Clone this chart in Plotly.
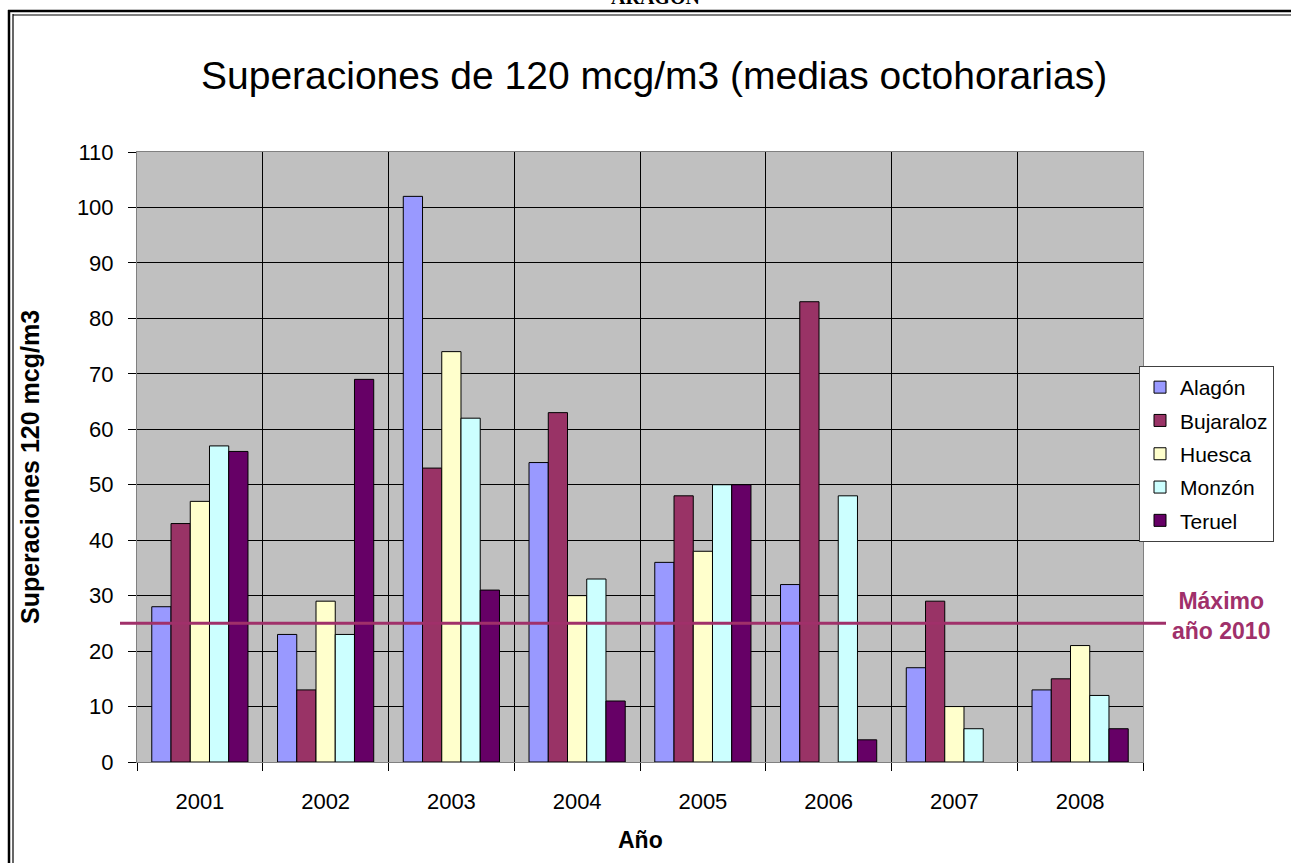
import plotly.graph_objects as go

years = [2001, 2002, 2003, 2004, 2005, 2006, 2007, 2008]
stations = ["Alagón", "Bujaraloz", "Huesca", "Monzón", "Teruel"]
alagon = [28, 23, 102, 54, 36, 32, 17, 13]
bujaraloz = [43, 13, 53, 63, 48, 83, 29, 15]
huesca = [47, 29, 74, 30, 38, None, 10, 21]
monzon = [57, 23, 62, 33, 50, 48, 6, 12]
teruel = [56, 69, 31, 11, 50, 4, None, 6]
series = [alagon, bujaraloz, huesca, monzon, teruel]
colors = ["#9999FF", "#993366", "#FFFFCC", "#CCFFFF", "#660066"]
max_2010 = 25
y_ticks = list(range(0, 111, 10))

W, H = 1291, 863
L, R, T, B = 137, 148, 152, 101
PW, PH = W - L - R, H - T - B

def px(x):
    return (x - L) / PW

def py(y):
    return (H - B - y) / PH

FONT = "Liberation Sans, Arial, sans-serif"
LINE_COL = "#A0306A"

fig = go.Figure()
for name, vals, col in zip(stations, series, colors):
    fig.add_trace(go.Bar(
        x=years, y=vals, name=name, legendgroup=name,
        marker=dict(color=col, line=dict(color="black", width=1)),
    ))

shapes = []
shapes.append(dict(type="line", xref="paper", yref="y", x0=px(120), x1=px(1166),
                   y0=max_2010, y1=max_2010, line=dict(color=LINE_COL, width=3), layer="above"))
frame = "black"
shapes += [
    dict(type="line", xref="paper", yref="paper", x0=px(9), x1=px(9), y0=py(10), y1=py(H + 5), line=dict(color=frame, width=2.5)),
    dict(type="line", xref="paper", yref="paper", x0=px(13), x1=px(13), y0=py(14), y1=py(H + 5), line=dict(color=frame, width=1.2)),
    dict(type="line", xref="paper", yref="paper", x0=px(8), x1=px(W + 5), y0=py(11), y1=py(11), line=dict(color=frame, width=2.5)),
    dict(type="line", xref="paper", yref="paper", x0=px(13), x1=px(W + 5), y0=py(15), y1=py(15), line=dict(color=frame, width=1.2)),
]

annotations = [
    dict(text="<b>ARAGÓN</b>", xref="paper", yref="paper", x=px(655), y=py(-4), showarrow=False,
         font=dict(family="Liberation Serif, Times New Roman, serif", size=20, color="black"),
         xanchor="center", yanchor="middle"),
    dict(text="Superaciones de 120 mcg/m3 (medias octohorarias)", xref="paper", yref="paper",
         x=px(654), y=py(75), showarrow=False, xanchor="center", yanchor="middle",
         font=dict(family=FONT, size=39, color="black")),
    dict(text="<b>Superaciones 120 mcg/m3</b>", xref="paper", yref="paper", x=px(30), y=py(467),
         textangle=-90, showarrow=False, xanchor="center", yanchor="middle",
         font=dict(family=FONT, size=25, color="black")),
    dict(text="<b>Año</b>", xref="paper", yref="paper", x=px(640), y=py(840), showarrow=False,
         xanchor="center", yanchor="middle", font=dict(family=FONT, size=23, color="black")),
    dict(text="<b>Máximo<br>año 2010</b>", xref="paper", yref="paper", x=px(1221), y=py(616),
         showarrow=False, xanchor="center", yanchor="middle", align="center",
         font=dict(family=FONT, size=23, color=LINE_COL)),
]

boundaries = [years[0] - 0.5] + [y + 0.5 for y in years]

fig.update_layout(
    width=W, height=H, autosize=False,
    margin=dict(l=L, r=R, t=T, b=B, autoexpand=False),
    paper_bgcolor="white", plot_bgcolor="#C0C0C0",
    barmode="group", bargap=0.235, bargroupgap=0,
    font=dict(family=FONT, size=22, color="black"),
    showlegend=True,
    legend=dict(x=px(1274), y=py(366), xanchor="right", yanchor="top",
                bgcolor="white", bordercolor="#404040", borderwidth=1,
                font=dict(family=FONT, size=21, color="black"),
                tracegroupgap=3, itemwidth=30),
    shapes=shapes, annotations=annotations,
    xaxis=dict(range=[years[0] - 0.5, years[-1] + 0.5], tickvals=years,
               ticktext=[str(y) for y in years], ticks="", ticklabelstandoff=20,
               showgrid=False, zeroline=False, showline=True, linecolor="#808080",
               linewidth=1, mirror=True,
               minor=dict(tickvals=boundaries, showgrid=True, gridcolor="black", gridwidth=1,
                          ticks="outside", ticklen=8, tickcolor="black"),
               tickfont=dict(family=FONT, size=22, color="black")),
    yaxis=dict(range=[0, 110], tickvals=y_ticks, ticks="outside", ticklen=8, tickcolor="black",
               showgrid=True, gridcolor="black", gridwidth=1, zeroline=False,
               showline=True, linecolor="#808080", linewidth=1, mirror=True,
               ticklabelstandoff=10,
               tickfont=dict(family=FONT, size=22, color="black")),
)

fig.write_html("out.html", config={"displayModeBar": False},
               post_script="document.body.style.margin='0';document.body.style.overflow='hidden';")
